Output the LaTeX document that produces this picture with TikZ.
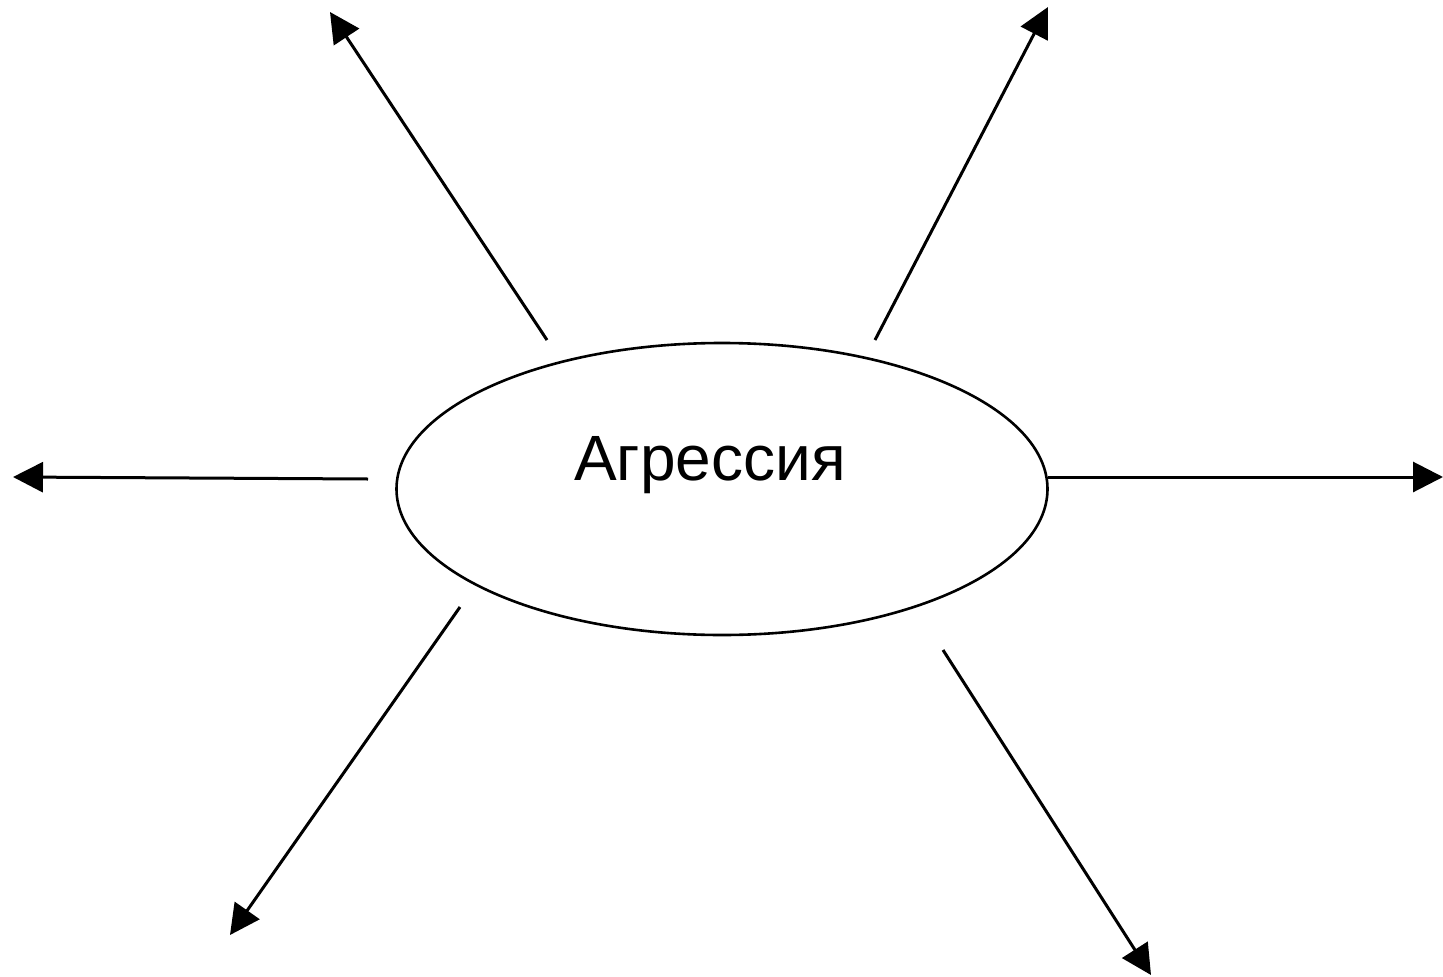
\documentclass[tikz,border=0pt]{standalone}
\usepackage{fontspec}
\setmainfont{Liberation Sans}
\usetikzlibrary{arrows.meta,shapes.geometric}
\tikzset{
  ray/.style={line width=3pt, -{Triangle[length=30pt,width=30pt]}},
  oval/.style={draw, ellipse, line width=2.6pt, minimum width=651pt, minimum height=292pt, inner sep=0pt},
}
\begin{document}
\begin{tikzpicture}[x=1pt,y=-1pt]
\useasboundingbox (0,0) rectangle (1443,977);
\node[oval] (e) at (722,489) {};
\node[font=\fontsize{64}{76}\selectfont, anchor=base] (t) at (710,480) {Агрессия};
\coordinate (s1) at (547,340); \coordinate (t1) at (330,12);
\coordinate (s2) at (875,340); \coordinate (t2) at (1048,7);
\coordinate (s3) at (368,479); \coordinate (t3) at (13,477);
\coordinate (s4) at (1048,477); \coordinate (t4) at (1443,477);
\coordinate (s5) at (460,607); \coordinate (t5) at (230,935);
\coordinate (s6) at (943,650); \coordinate (t6) at (1151,975);
\draw[ray] (s1) -- (t1);
\draw[ray] (s2) -- (t2);
\draw[ray] (s3) -- (t3);
\draw[ray] (s4) -- (t4);
\draw[ray] (s5) -- (t5);
\draw[ray] (s6) -- (t6);
\end{tikzpicture}
\end{document}
